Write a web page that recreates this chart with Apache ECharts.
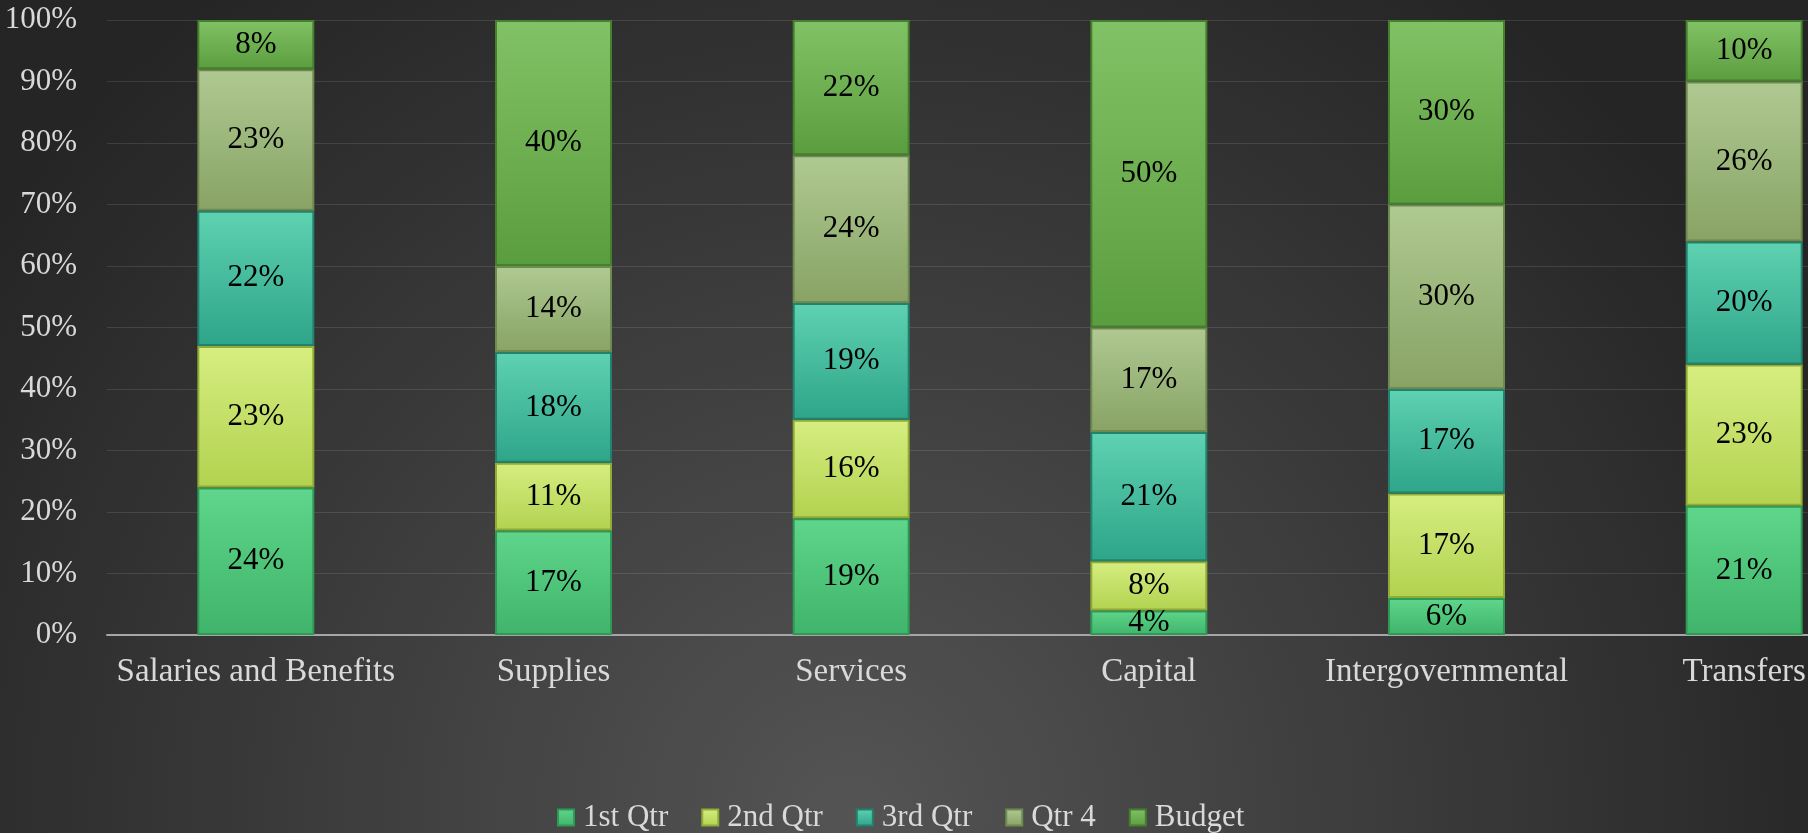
<!DOCTYPE html>
<html>
<head>
<meta charset="utf-8">
<title>Quarterly spending by category</title>
<script src="https://cdn.jsdelivr.net/npm/echarts@6/dist/echarts.min.js"></script>
<style>
  html, body { margin: 0; padding: 0; }
  #chart { width: 1808px; height: 833px; }
</style>
</head>
<body>
<div id="chart"></div>
<script>
// data (percent of each category)
const categories = ['Salaries and Benefits', 'Supplies', 'Services', 'Capital', 'Intergovernmental', 'Transfers'];
const seriesNames = ['1st Qtr', '2nd Qtr', '3rd Qtr', 'Qtr 4', 'Budget'];
const qtr1 = [24, 17, 19, 4, 6, 21];
const qtr2 = [23, 11, 16, 8, 17, 23];
const qtr3 = [22, 18, 19, 21, 17, 20];
const qtr4 = [23, 14, 24, 17, 30, 26];
const budget = [8, 40, 22, 50, 30, 10];
const yTicks = [0, 10, 20, 30, 40, 50, 60, 70, 80, 90, 100];

const values = [qtr1, qtr2, qtr3, qtr4, budget];

// top, bottom, border for each series
const palette = [
  ['#5fd68b', '#3fb46a', '#2f9a55'],
  ['#d6ee80', '#b2d250', '#90ab36'],
  ['#5ed2b1', '#2ea489', '#22826d'],
  ['#afc992', '#88a364', '#6e8a50'],
  ['#82c266', '#5a9d3e', '#467f2e'],
];

const serif = '"Liberation Serif", "DejaVu Serif", serif';

const chart = echarts.init(document.getElementById('chart'));

chart.setOption({
  backgroundColor: {
    type: 'radial',
    x: 0.47,
    y: 0.98,
    r: 1.25,
    colorStops: [
      { offset: 0, color: '#545454' },
      { offset: 0.55, color: '#3a3a3a' },
      { offset: 1, color: '#252525' },
    ],
  },
  animation: false,
  textStyle: { fontFamily: serif },
  grid: {
    left: 107,
    top: 20,
    bottom: 198,
    width: 1786, // runs past the right edge, the picture is cut there
    containLabel: false,
    outerBoundsMode: 'none',
  },
  legend: {
    left: 552,
    top: 797,
    itemWidth: 16,
    itemHeight: 16,
    itemGap: 33,
    icon: 'rect',
    textStyle: {
      color: '#d9d9d9',
      fontSize: 31,
      fontFamily: serif,
      padding: [0, 0, 0, 4],
    },
    data: seriesNames,
  },
  xAxis: {
    type: 'category',
    data: categories,
    axisTick: { show: false },
    axisLine: {
      lineStyle: { color: '#a6a6a6', width: 2 },
    },
    axisLabel: {
      color: '#d9d9d9',
      fontSize: 33,
      margin: 21,
      interval: 0,
      fontFamily: serif,
    },
  },
  yAxis: {
    type: 'value',
    min: yTicks[0],
    max: yTicks[yTicks.length - 1],
    interval: 10,
    axisLine: { show: false },
    axisTick: { show: false },
    axisLabel: {
      color: '#d9d9d9',
      fontSize: 31,
      margin: 30,
      fontFamily: serif,
      formatter: '{value}%',
    },
    splitLine: {
      lineStyle: { color: 'rgba(255,255,255,0.11)', width: 1 },
    },
  },
  series: seriesNames.map((name, i) => {
    return {
      name,
      type: 'bar',
      stack: 'total',
      barWidth: 117,
      data: values[i],
      itemStyle: {
        color: {
          type: 'linear',
          x: 0,
          y: 0,
          x2: 0,
          y2: 1,
          colorStops: [
            { offset: 0, color: palette[i][0] },
            { offset: 1, color: palette[i][1] },
          ],
        },
        borderColor: palette[i][2],
        borderWidth: 2,
      },
      label: {
        show: true,
        position: 'inside',
        color: '#000',
        fontSize: 31,
        fontFamily: serif,
        formatter: '{c}%',
      },
    };
  }),
});
</script>
</body>
</html>
